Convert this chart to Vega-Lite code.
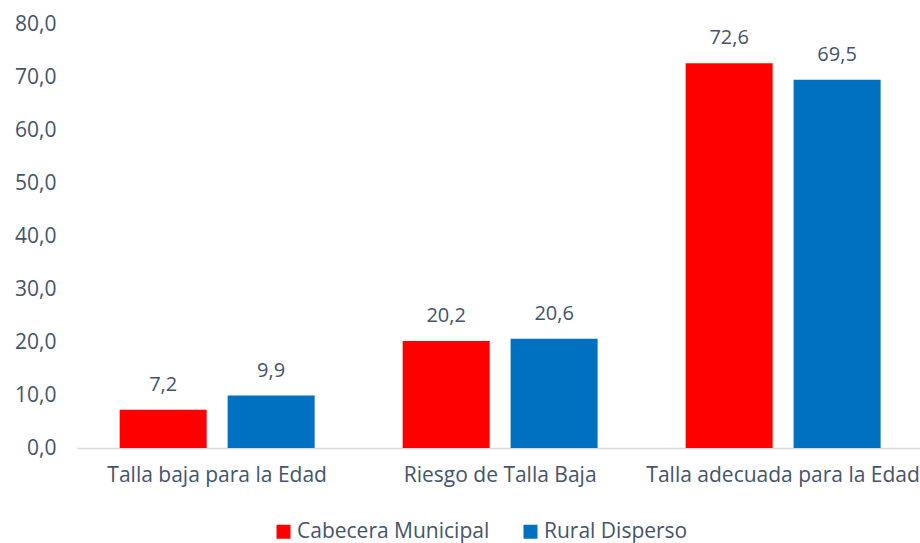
{
  "$schema": "https://vega.github.io/schema/vega-lite/v6.json",
  "width": 843,
  "height": 424,
  "autosize": {"type": "none"},
  "padding": {"left": 77, "top": 24, "right": 0, "bottom": 95},
  "data": {
    "values": [
      {"cat": "Talla baja para la Edad", "serie": "Cabecera Municipal", "valor": 7.2},
      {"cat": "Talla baja para la Edad", "serie": "Rural Disperso", "valor": 9.9},
      {"cat": "Riesgo de Talla Baja", "serie": "Cabecera Municipal", "valor": 20.2},
      {"cat": "Riesgo de Talla Baja", "serie": "Rural Disperso", "valor": 20.6},
      {"cat": "Talla adecuada para la Edad", "serie": "Cabecera Municipal", "valor": 72.6},
      {"cat": "Talla adecuada para la Edad", "serie": "Rural Disperso", "valor": 69.5}
    ]
  },
  "config": {
    "locale": {"number": {"decimal": ",", "thousands": ".", "grouping": [3], "currency": ["$", ""]}},
    "font": "Open Sans",
    "view": {"stroke": null}
  },
  "encoding": {
    "x": {
      "field": "cat", "type": "nominal", "sort": null,
      "scale": {"paddingInner": 0.311, "paddingOuter": 0.145, "align": 0.52},
      "axis": {"title": null, "labelAngle": 0, "labelFontSize": 21, "labelLimit": 0, "labelColor": "#44546A", "labelPadding": 16, "ticks": false, "domainColor": "#D9D9D9", "domainWidth": 1.5}
    },
    "xOffset": {"field": "serie", "type": "nominal", "scale": {"paddingInner": 0.194, "paddingOuter": 0}},
    "y": {
      "field": "valor", "type": "quantitative",
      "scale": {"domain": [0, 80]},
      "axis": {"title": null, "values": [0, 10, 20, 30, 40, 50, 60, 70, 80], "format": ".1f", "grid": false, "domain": false, "ticks": false, "labelFontSize": 21, "labelColor": "#44546A", "labelPadding": 21}
    }
  },
  "layer": [
    {
      "mark": {"type": "bar"},
      "encoding": {
        "color": {
          "field": "serie", "type": "nominal",
          "scale": {"domain": ["Cabecera Municipal", "Rural Disperso"], "range": ["#FF0000", "#0070C0"]},
          "legend": {"title": null, "orient": "none", "legendX": 196, "legendY": 497, "direction": "horizontal", "symbolType": "square", "symbolSize": 196, "symbolStrokeWidth": 0, "labelFontSize": 21, "labelLimit": 0, "labelOffset": 3, "labelColor": "#44546A", "columnPadding": 30}
        }
      }
    },
    {
      "mark": {"type": "text", "dy": -25, "fontSize": 20, "color": "#44546A"},
      "encoding": {"text": {"field": "valor", "type": "quantitative", "format": ".1f"}}
    }
  ]
}
